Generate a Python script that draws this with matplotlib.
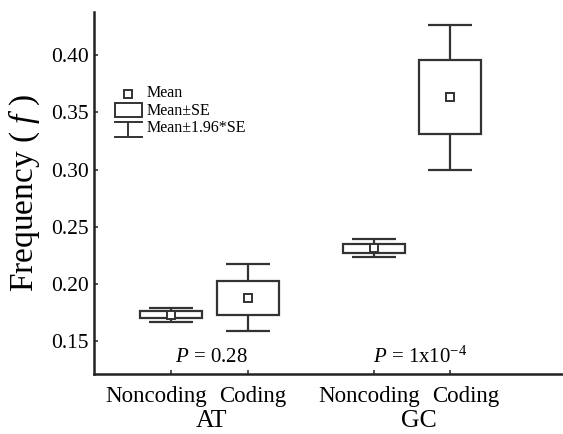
import matplotlib
matplotlib.use("Agg")
import matplotlib.pyplot as plt
from matplotlib.patches import Rectangle

# values
groups = ["AT", "GC"]
seq_types = ["Noncoding", "Coding", "Noncoding", "Coding"]
means = [0.1728, 0.1880, 0.2311, 0.3633]
se = [0.0031, 0.0149, 0.0040, 0.0323]
p_labels = [r"$\it{P}$ = 0.28", r"$\it{P}$ = 1x10$^{-4}$"]

positions = [0, 1, 2.65, 3.65]
box_w = 0.81
cap_w = 0.575
col = "#333333"

plt.rcParams["font.family"] = ["Liberation Serif", "DejaVu Serif"]
plt.rcParams["mathtext.fontset"] = "custom"
plt.rcParams["mathtext.rm"] = "Liberation Serif"
plt.rcParams["mathtext.it"] = "Liberation Serif:italic"

fig = plt.figure(figsize=(5.63, 4.34), dpi=100)
ax = fig.add_axes([0.167, 0.138, 0.833, 0.834])

for x, m, s in zip(positions, means, se):
    lo, hi = m - 1.96 * s, m + 1.96 * s
    ax.add_patch(Rectangle((x - box_w / 2, m - s), box_w, 2 * s,
                           fill=False, edgecolor=col, lw=1.6, zorder=2))
    ax.vlines(x, hi, m + s, color=col, lw=1.6)
    ax.vlines(x, lo, m - s, color=col, lw=1.6)
    ax.hlines([lo, hi], x - cap_w / 2, x + cap_w / 2, color=col, lw=1.6)
    ax.plot(x, m, marker="s", ms=5.5, mfc="white", mec=col, mew=1.4, zorder=3)

ax.set_xlim(-1.007, 5.12)
ax.set_ylim(0.121, 0.4377)
ax.set_yticks([0.15, 0.20, 0.25, 0.30, 0.35, 0.40])
ax.set_yticklabels(["0.15", "0.20", "0.25", "0.30", "0.35", "0.40"])
ax.set_xticks(positions)
ax.set_xticklabels([])
ax.tick_params(direction="in", length=3, width=1.2, labelsize=15.5, color=col)
ax.tick_params(axis="y", pad=4)
for side in ["top", "right"]:
    ax.spines[side].set_visible(False)
for side in ["left", "bottom"]:
    ax.spines[side].set_linewidth(1.8)
    ax.spines[side].set_color("#222222")

ax.set_ylabel(r"Frequency ( $\it{f}$ )", fontsize=24, labelpad=6)

# category labels under the axis
blend = ax.get_xaxis_transform()
for g, name in enumerate(groups):
    a, b = positions[2 * g], positions[2 * g + 1]
    mid = (a + b) / 2
    off = 0.05 if g == 0 else 0.18
    ax.text(mid + off - 0.08, -0.033, seq_types[2 * g], transform=blend,
            ha="right", va="top", fontsize=16.5)
    ax.text(mid + off + 0.08, -0.033, seq_types[2 * g + 1], transform=blend,
            ha="left", va="top", fontsize=16.5)
    ax.text(mid + off * 0.5, -0.098, name, transform=blend,
            ha="center", va="top", fontsize=18.5)
    ax.text(mid + off * 0.6, 0.047, p_labels[g], transform=blend,
            ha="center", va="center", fontsize=15)

# hand-drawn legend
ta = ax.transAxes
lx0, lx1 = 0.045, 0.102
lxc = (lx0 + lx1) / 2
ax.plot(lxc, 0.774, transform=ta, marker="s", ms=5.5, mfc="white", mec=col,
        mew=1.4, clip_on=False)
ax.add_patch(Rectangle((lx0, 0.710), lx1 - lx0, 0.040, transform=ta,
                       fill=False, edgecolor=col, lw=1.4))
ax.plot([lx0, lx1], [0.697, 0.697], transform=ta, color=col, lw=1.4)
ax.plot([lxc, lxc], [0.697, 0.656], transform=ta, color=col, lw=1.4)
ax.plot([lx0, lx1], [0.656, 0.656], transform=ta, color=col, lw=1.4)
for ty, txt in zip([0.776, 0.728, 0.680], ["Mean", "Mean±SE", "Mean±1.96*SE"]):
    ax.text(0.113, ty, txt, transform=ta, ha="left", va="center", fontsize=11.5)

fig.savefig("out.png", dpi=100)
